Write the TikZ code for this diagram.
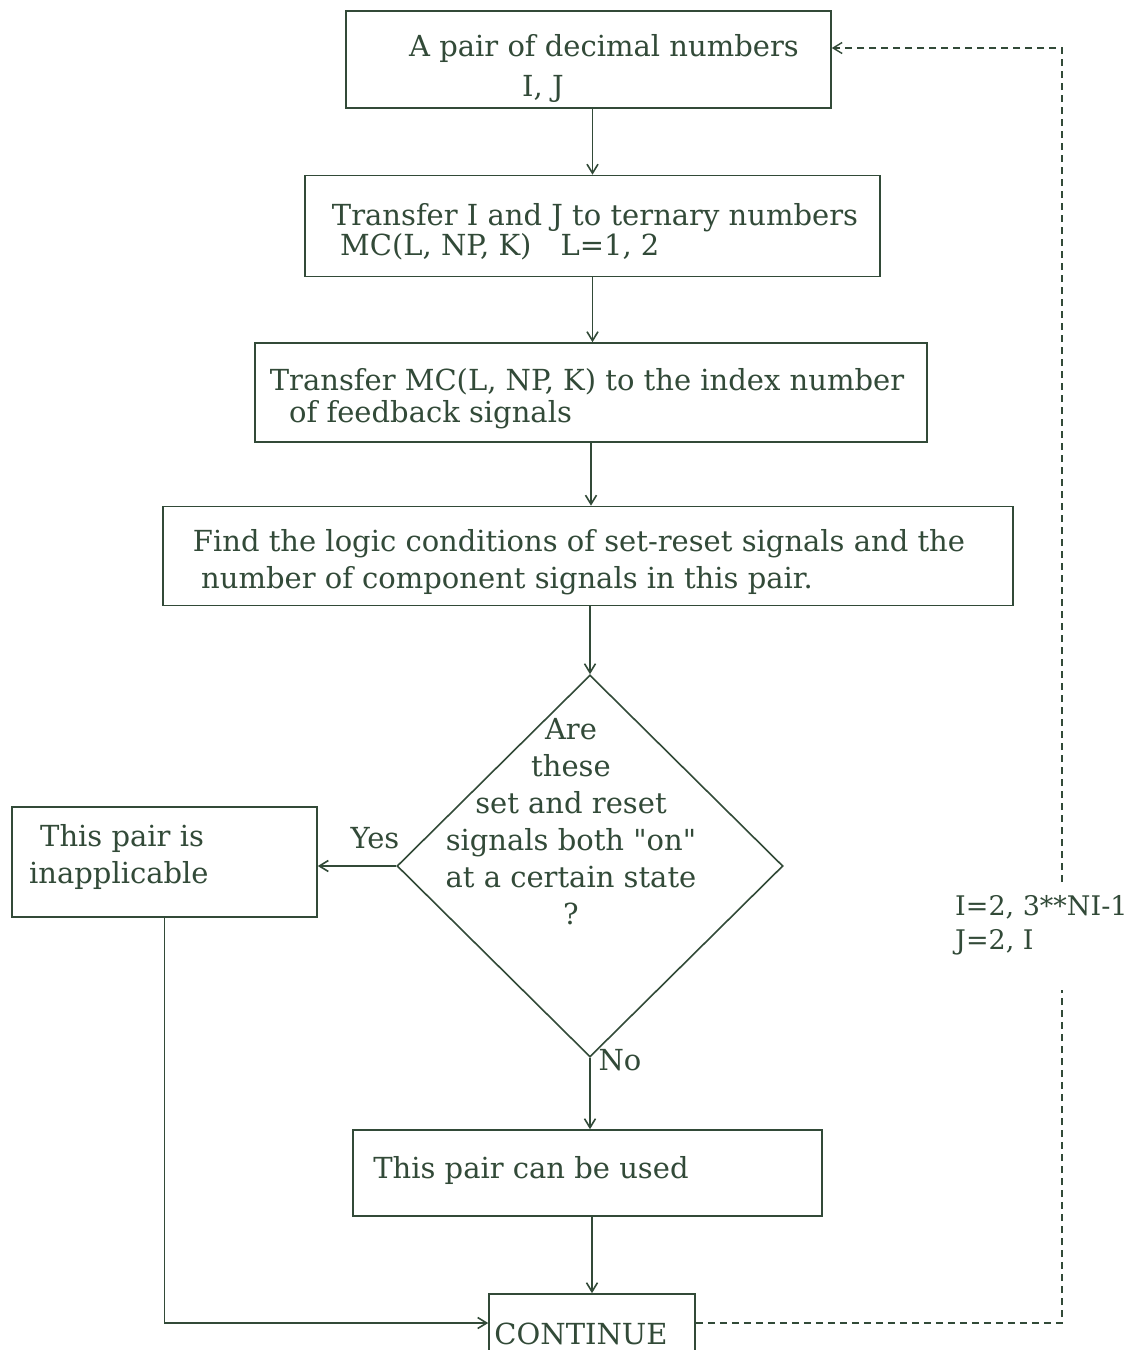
\documentclass[tikz,border=0pt]{standalone}
\usepackage{fontspec}
\setmainfont{DejaVu Serif}[Ligatures=TeXOff]
\usetikzlibrary{shapes.geometric,arrows.meta}
\definecolor{ink}{RGB}{50,74,56}
\begin{document}
\begin{tikzpicture}[x=1pt,y=-1pt,
  box/.style={draw=ink, line width=1.6pt, inner sep=0pt},
  txt/.style={text=ink, inner sep=0pt, font=\fontsize{29}{37}\selectfont},
  conn/.style={draw=ink, line width=1.6pt, -{Straight Barb[length=9pt,width=11pt,line width=1.6pt]}},
  dashline/.style={draw=ink, line width=1.4pt, dash pattern=on 7pt off 5pt},
  dashconn/.style={dashline, -{Straight Barb[length=9pt,width=11pt,line width=1.4pt]}}
]
\clip (0,0) rectangle (1128,1350);
\fill[white] (0,0) rectangle (1128,1350);

% boxes
\node[box, minimum width=485pt, minimum height=97pt]  (b1) at (588.5,59.5) {};
\node[box, minimum width=575pt, minimum height=101pt] (b2) at (592.5,226) {};
\node[box, minimum width=672pt, minimum height=99pt]  (b3) at (591,392.5) {};
\node[box, minimum width=850pt, minimum height=99pt]  (b4) at (588,556) {};
\node[box, diamond, minimum width=386pt, minimum height=382pt] (dia) at (590,866) {};
\node[box, minimum width=305pt, minimum height=110pt] (b5) at (164.5,862) {};
\node[box, minimum width=469pt, minimum height=86pt]  (b6) at (587.5,1173) {};
\node[box, minimum width=206pt, minimum height=58pt]  (b7) at (592,1323) {};

% texts
\node[txt] (t1a) at (604,48) {A pair of decimal numbers};
\node[txt] (t1b) at (543,89) {I, J};
\node[txt] (t2a) at (595,218) {Transfer I and J to ternary numbers};
\node[txt, anchor=west] (t2b) at (340,247) {MC(L, NP, K)\quad L=1, 2};
\node[txt] (t3a) at (587,382) {Transfer MC(L, NP, K) to the index number};
\node[txt, anchor=west] (t3b) at (289,415) {of feedback signals};
\node[txt] (t4a) at (579,544) {Find the logic conditions of set-reset signals and the};
\node[txt, anchor=west] (t4b) at (201,581) {number of component signals in this pair.};
\node[txt, align=center] (tq) at (571,822) {Are\\these\\set and reset\\signals both "on"\\at a certain state\\?};
\node[txt, anchor=west] (t5a) at (40,838) {This pair is};
\node[txt, anchor=west] (t5b) at (29,875) {inapplicable};
\node[txt] (tyes) at (375,838) {Yes};
\node[txt] (tno) at (620,1060) {No};
\node[txt] (t6) at (531,1170) {This pair can be used};
\node[txt] (t7) at (581,1334) {CONTINUE};
\node[txt, anchor=west, font=\fontsize{27}{33}\selectfont] (la) at (955,907) {I=2, 3**NI-1};
\node[txt, anchor=west, font=\fontsize{27}{33}\selectfont] (lb) at (955,942) {J=2, I};

% connectors
\draw[conn] (b1.south -| b2.north) -- (b2.north);
\draw[conn] (b2.south) -- (b2.south |- b3.north);
\draw[conn] (b3.south) -- (b3.south |- b4.north);
\draw[conn] (b4.south -| dia.north) -- (dia.north);
\draw[conn] (dia.west) -- (dia.west -| b5.east);
\draw[conn] (dia.south) -- (dia.south |- b6.north);
\draw[conn] (b6.south -| b7.north) -- (b7.north);
\draw[conn] (b5.south) |- (b7.west);

% loop back (dashed)
\coordinate (lt) at (1062,48);
\coordinate (lga) at (1062,882);
\coordinate (lgb) at (1062,990);
\draw[dashline] (b7.east) -| (lgb);
\draw[dashconn] (lga) -- (lt) -- (b1.east |- lt);
\end{tikzpicture}
\end{document}
